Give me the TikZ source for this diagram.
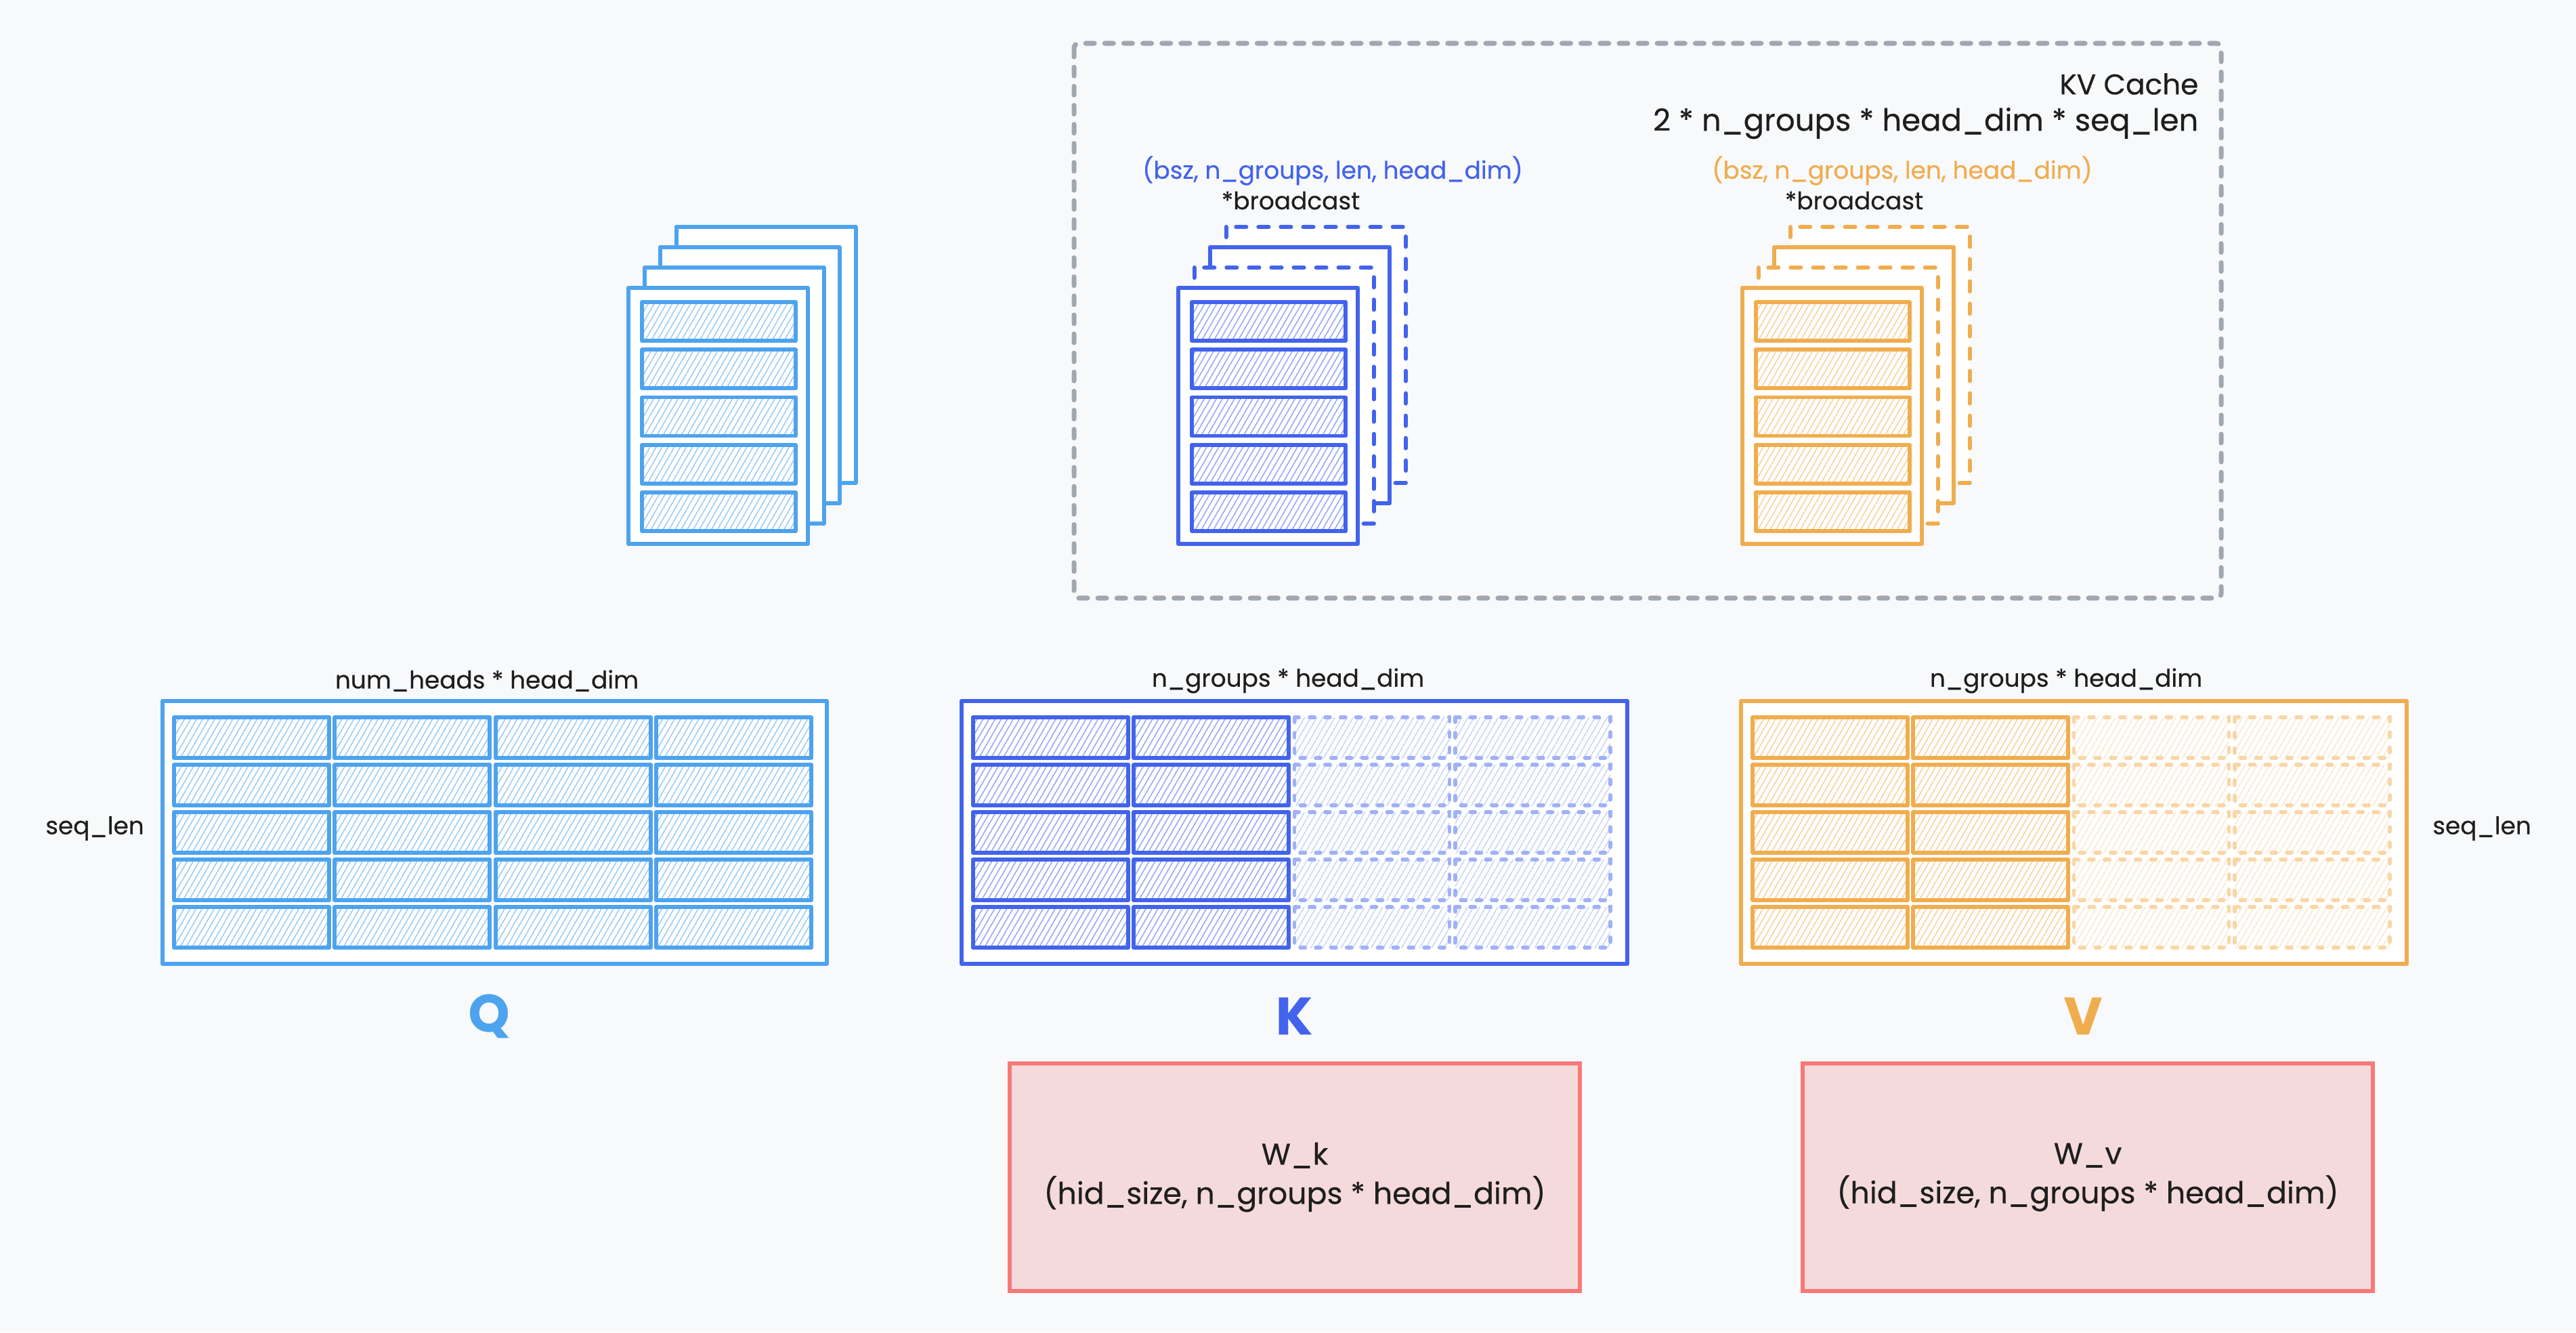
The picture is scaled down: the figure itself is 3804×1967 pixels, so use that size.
\documentclass[tikz,border=0pt]{standalone}
\usepackage{fontspec}
\setmainfont{Poppins}[FakeBold=0.35]
\usetikzlibrary{patterns.meta}
\definecolor{qcol}{HTML}{4DA3EE}
\definecolor{kcol}{HTML}{4263EB}
\definecolor{vcol}{HTML}{F0AD4E}
\definecolor{wfill}{HTML}{F5DADB}
\definecolor{wline}{HTML}{F87878}
\definecolor{cachegray}{HTML}{A1A7B1}
\definecolor{bgcol}{HTML}{F8F9FB}
\definecolor{ink}{HTML}{1E1E1E}
\newcommand{\fsz}[2]{\fontsize{#1}{#2}\selectfont}

\begin{document}
\begin{tikzpicture}[x=0.01cm,y=-0.01cm]
\tikzset{
  sheet/.style={draw=#1,line width=1.7pt,fill=white,line join=round},
  dsheet/.style={sheet=#1,dash pattern=on 4.3pt off 5.1pt,line cap=round},
  cell/.style={draw=#1,line width=1.7pt,line join=round,
    pattern={Lines[angle=60,distance=2.2pt,line width=0.45pt]},pattern color=#1!55},
  ghost/.style={draw=#1!50,line width=1.6pt,dash pattern=on 2pt off 4.5pt,line cap=round,
    pattern={Lines[angle=60,distance=2.2pt,line width=0.45pt]},pattern color=#1!28},
  lbl/.style={text=ink,inner sep=0pt,font=\fsz{10.2}{12}},
  shapetxt/.style={inner sep=0pt,font=\fsz{10.2}{12}},
  big/.style={inner sep=0pt,font=\fsz{22}{26}\bfseries},
  wbox/.style={draw=wline,fill=wfill,line width=1.7pt,minimum width=8.42cm,
    minimum height=3.35cm,align=center,text=ink,font=\fsz{12.6}{16.5}},
}
%\draw[style=help lines,step=100, dotted] (0,0) grid (3804,1967);
\fill[bgcol] (0,0) rectangle (3804,1967);
% KV cache frame
\draw[cachegray,line width=2pt,dash pattern=on 3.7pt off 4.3pt,line cap=round,
  rounded corners=2pt] (1586,64) rectangle (3280,883);
\node[text=ink,inner sep=0pt,font=\fsz{12}{16},anchor=east] (kvtitle) at (3247,124) {KV Cache};
\node[text=ink,inner sep=0pt,font=\fsz{12.8}{16},anchor=east] (kvsize) at (3247,182)
  {2 * n\_groups * head\_dim * seq\_len};
%%%
% Q stack
\foreach \i in {3,2,1,0}
  \draw[sheet=qcol] ({928+23.5*\i},{425-30*\i}) rectangle ++(265,378);
\foreach \r in {0,...,4}
  \draw[cell=qcol] (948,{446+70.25*\r}) rectangle ++(227,57);
%%%
% K and V stacks (broadcast)
\foreach \dx/\clr in {812/kcol,1645/vcol}{
  \begin{scope}[shift={(\dx,0)}]
  \foreach \i/\s in {3/dsheet,2/sheet,1/dsheet,0/sheet}
    \draw[\s=\clr] ({928+23.5*\i},{425-30*\i}) rectangle ++(265,378);
  \foreach \r in {0,...,4}
    \draw[cell=\clr] (948,{446+70.25*\r}) rectangle ++(227,57);
  \end{scope}
}
\node[shapetxt,text=kcol] (kshape) at (1968,252) {(bsz, n\_groups, len, head\_dim)};
\node[shapetxt,text=ink] (kbcast) at (1906,296) {*broadcast};
\node[shapetxt,text=vcol] (vshape) at (2809,252) {(bsz, n\_groups, len, head\_dim)};
\node[shapetxt,text=ink] (vbcast) at (2738,296) {*broadcast};
%%%
% Q matrix
\draw[sheet=qcol] (240,1035) rectangle (1221,1423);
\foreach \c in {0,...,3}
  \foreach \r in {0,...,4}
    \draw[cell=qcol] ({257+237.3*\c},{1059+70*\r}) rectangle ++(229,60);
% K and V matrices, last two head groups are repeated
\foreach \dx/\clr in {1180/kcol,2331/vcol}{
  \draw[sheet=\clr] ({240+\dx},1035) rectangle ++(983,388);
  \foreach \r in {0,...,4}{
    \foreach \c in {0,1}
      \draw[cell=\clr] ({257+\dx+237.3*\c},{1059+70*\r}) rectangle ++(229,60);
    \foreach \c in {2,3}
      \draw[ghost=\clr] ({257+\dx+237.3*\c},{1059+70*\r}) rectangle ++(229,60);
  }
}
\node[lbl] (qdim) at (719,1005) {num\_heads * head\_dim};
\node[lbl] (kdim) at (1902,1005) {n\_groups * head\_dim};
\node[lbl] (vdim) at (3051,1005) {n\_groups * head\_dim};
\node[lbl] (seqq) at (140,1223) {seq\_len};
\node[lbl] (seqv) at (3665,1223) {seq\_len};
%%%
\node[big,text=qcol] (qname) at (722,1500) {Q};
\node[big,text=kcol] (kname) at (1911,1500) {K};
\node[big,text=vcol] (vname) at (3076,1500) {V};
% projection weights
\node[wbox] (wk) at (1912,1738) {W\_k\\(hid\_size, n\_groups * head\_dim)};
\node[wbox] (wv) at (3083,1738) {W\_v\\(hid\_size, n\_groups * head\_dim)};
\end{tikzpicture}
\end{document}
